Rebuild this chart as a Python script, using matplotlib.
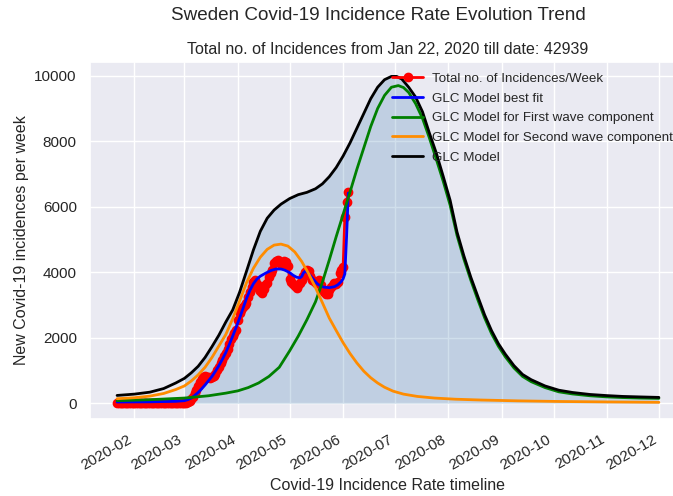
import numpy as np
import pandas as pd
import matplotlib
matplotlib.use("Agg")
import matplotlib.pyplot as plt
import matplotlib.dates as mdates
import seaborn as sns

# observed new incidences per week (rolling), one value per day from 2020-01-22
obs_start = "2020-01-22"
obs_jan = [0, 0, 0, 0, 0, 0, 0, 0, 0, 0]
obs_feb = [0, 0, 0, 0, 0, 0, 0, 0, 0, 0, 0, 0, 0, 0, 0, 0, 0, 0, 0, 0,
           0, 0, 0, 0, 0, 0, 0, 0, 0]
obs_mar = [5, 10, 30, 70, 120, 200, 300, 420, 520, 650, 750, 800, 820, 810, 790, 780,
           800, 820, 900, 1030, 1120, 1220, 1330, 1430, 1540, 1650, 1800, 1950, 2040,
           2150, 2250]
obs_apr = [2550, 2750, 2860, 2950, 3000, 3070, 3250, 3400, 3550, 3700, 3770, 3650, 3500,
           3420, 3380, 3500, 3600, 3680, 3850, 3990, 4080, 4290, 4350, 4380, 4300, 4250,
           4290, 4350, 4300, 4200]
obs_may = [3800, 3700, 3650, 3570, 3530, 3600, 3680, 3770, 3900, 4000, 4080, 4050, 3900,
           3770, 3720, 3680, 3700, 3750, 3600, 3480, 3400, 3350, 3350, 3450, 3560, 3620,
           3680, 3650, 3700, 3990, 4080]
obs_jun = [4170, 5700, 6150, 6450]

# GLC model best fit over the observed period
fit_dates = ["2020-01-22", "2020-02-10", "2020-02-25", "2020-03-01", "2020-03-03",
             "2020-03-05", "2020-03-07", "2020-03-09", "2020-03-11", "2020-03-13",
             "2020-03-15", "2020-03-17", "2020-03-19", "2020-03-21", "2020-03-23",
             "2020-03-25", "2020-03-27", "2020-03-29", "2020-03-31", "2020-04-02",
             "2020-04-04", "2020-04-06", "2020-04-08", "2020-04-10", "2020-04-12",
             "2020-04-14", "2020-04-17", "2020-04-20", "2020-04-23", "2020-04-26",
             "2020-04-28", "2020-05-01", "2020-05-03", "2020-05-05", "2020-05-07",
             "2020-05-08", "2020-05-09", "2020-05-10", "2020-05-11", "2020-05-13",
             "2020-05-15", "2020-05-17", "2020-05-19", "2020-05-21", "2020-05-24",
             "2020-05-27", "2020-05-29", "2020-05-31", "2020-06-01", "2020-06-02",
             "2020-06-03", "2020-06-04"]
fit_vals = [40, 45, 60, 80, 110, 160, 240, 330, 440, 560, 690, 820, 980, 1150, 1340,
            1550, 1790, 2050, 2320, 2600, 2900, 3200, 3450, 3650, 3790, 3880, 3970, 4050,
            4100, 4100, 4070, 3990, 3910, 3850, 3830, 3870, 3980, 4030, 4010, 3900, 3770,
            3650, 3580, 3545, 3530, 3560, 3620, 3720, 3800, 3950, 5080, 6420]

# first wave component
wave1_dates = ["2020-01-22", "2020-02-10", "2020-03-01", "2020-03-15", "2020-03-25",
               "2020-04-01", "2020-04-07", "2020-04-13", "2020-04-19", "2020-04-25",
               "2020-05-01", "2020-05-06", "2020-05-11", "2020-05-16", "2020-05-20",
               "2020-05-24", "2020-05-28", "2020-06-01", "2020-06-05", "2020-06-09",
               "2020-06-13", "2020-06-17", "2020-06-21", "2020-06-25", "2020-06-29",
               "2020-07-03", "2020-07-06", "2020-07-09", "2020-07-13", "2020-07-17",
               "2020-07-21", "2020-07-25", "2020-07-29", "2020-08-02", "2020-08-06",
               "2020-08-10", "2020-08-14", "2020-08-18", "2020-08-22", "2020-08-26",
               "2020-08-30", "2020-09-03", "2020-09-08", "2020-09-13", "2020-09-18",
               "2020-09-26", "2020-10-04", "2020-10-12", "2020-10-22", "2020-11-01",
               "2020-11-10", "2020-11-20", "2020-12-01"]
wave1_vals = [80, 110, 160, 230, 310, 380, 480, 620, 820, 1100, 1600, 2050, 2550, 3100,
              3700, 4380, 5090, 5770, 6450, 7150, 7800, 8450, 9000, 9400, 9650, 9700, 9640,
              9490, 9150, 8700, 8100, 7450, 6780, 6050, 5130, 4400, 3760, 3170, 2610, 2130,
              1740, 1420, 1080, 820, 660, 480, 350, 285, 230, 195, 175, 160, 150]

# second wave component
wave2_dates = ["2020-01-22", "2020-02-01", "2020-02-10", "2020-02-18", "2020-02-25",
               "2020-03-01", "2020-03-05", "2020-03-09", "2020-03-13", "2020-03-17",
               "2020-03-21", "2020-03-25", "2020-03-29", "2020-04-02", "2020-04-06",
               "2020-04-10", "2020-04-14", "2020-04-18", "2020-04-22", "2020-04-26",
               "2020-04-30", "2020-05-04", "2020-05-08", "2020-05-12", "2020-05-16",
               "2020-05-20", "2020-05-24", "2020-05-28", "2020-06-01", "2020-06-05",
               "2020-06-09", "2020-06-13", "2020-06-17", "2020-06-21", "2020-06-25",
               "2020-06-30", "2020-07-06", "2020-07-14", "2020-07-24", "2020-08-05",
               "2020-08-20", "2020-09-10", "2020-10-05", "2020-11-01", "2020-12-01"]
wave2_vals = [140, 170, 220, 300, 420, 530, 680, 870, 1100, 1400, 1750, 2100, 2580, 3120,
              3680, 4120, 4460, 4700, 4830, 4860, 4800, 4620, 4330, 3960, 3530, 3070, 2600,
              2220, 1850, 1520, 1230, 980, 780, 620, 490, 370, 280, 210, 160, 125, 100, 75,
              55, 42, 30]

# full GLC model
glc_dates = ["2020-01-22", "2020-02-01", "2020-02-10", "2020-02-18", "2020-02-25",
             "2020-03-01", "2020-03-05", "2020-03-09", "2020-03-13", "2020-03-17",
             "2020-03-21", "2020-03-25", "2020-03-29", "2020-04-02", "2020-04-06",
             "2020-04-10", "2020-04-14", "2020-04-18", "2020-04-22", "2020-04-26",
             "2020-05-01", "2020-05-06", "2020-05-11", "2020-05-16", "2020-05-20",
             "2020-05-24", "2020-05-28", "2020-06-01", "2020-06-05", "2020-06-09",
             "2020-06-13", "2020-06-17", "2020-06-21", "2020-06-25", "2020-06-29",
             "2020-07-02", "2020-07-05", "2020-07-09", "2020-07-13", "2020-07-17",
             "2020-07-21", "2020-07-25", "2020-07-29", "2020-08-02", "2020-08-06",
             "2020-08-10", "2020-08-14", "2020-08-18", "2020-08-22", "2020-08-26",
             "2020-08-30", "2020-09-03", "2020-09-08", "2020-09-13", "2020-09-18",
             "2020-09-26", "2020-10-04", "2020-10-12", "2020-10-22", "2020-11-01",
             "2020-11-10", "2020-11-20", "2020-12-01"]
glc_vals = [240, 280, 340, 450, 620, 760, 930, 1130, 1400, 1730, 2080, 2480, 2850, 3390,
            4030, 4680, 5250, 5650, 5900, 6080, 6250, 6370, 6440, 6550, 6700, 6920, 7200,
            7550, 7950, 8400, 8850, 9300, 9650, 9880, 9980, 9980, 9900, 9650, 9350, 8900,
            8250, 7640, 6930, 6200, 5230, 4500, 3850, 3270, 2700, 2220, 1820, 1500, 1150,
            880, 720, 530, 400, 330, 270, 235, 210, 195, 180]
fill_from = "2020-03-01"

sns.set_theme(style="darkgrid")
plt.rcParams['font.family'] = ['Liberation Sans', 'DejaVu Sans']

obs_vals = obs_jan + obs_feb + obs_mar + obs_apr + obs_may + obs_jun
obs_dates = pd.date_range(obs_start, periods=len(obs_vals), freq="D")
fit_dates = pd.to_datetime(fit_dates)
wave1_dates = pd.to_datetime(wave1_dates)
wave2_dates = pd.to_datetime(wave2_dates)
glc_dates = pd.to_datetime(glc_dates)
glc_vals = np.array(glc_vals)

fig = plt.figure(figsize=(6.73, 4.96), dpi=100)
ax = fig.add_axes([0.1337, 0.1552, 0.8856, 0.7198])

# shaded area under the full model
sel = glc_dates >= pd.Timestamp(fill_from)
ax.fill_between(glc_dates[sel], 0, glc_vals[sel], color="steelblue", alpha=0.25, lw=0)

ax.plot(obs_dates, obs_vals, "o-", color="red", lw=2, ms=6,
        label="Total no. of Incidences/Week")
ax.plot(fit_dates, fit_vals, color="blue", lw=2, label="GLC Model best fit")
ax.plot(wave1_dates, wave1_vals, color="green", lw=2,
        label="GLC Model for First wave component")
ax.plot(wave2_dates, wave2_vals, color="darkorange", lw=2,
        label="GLC Model for Second wave component")
ax.plot(glc_dates, glc_vals, color="black", lw=2, label="GLC Model")

ax.set_ylim(-480, 10420)
ax.xaxis.set_major_locator(mdates.MonthLocator())
ax.xaxis.set_major_formatter(mdates.DateFormatter("%Y-%m"))
plt.setp(ax.get_xticklabels(), rotation=30, ha="right")
ax.tick_params(labelsize=11)

ax.set_xlabel("Covid-19 Incidence Rate timeline", fontsize=11.5)
ax.set_ylabel("New Covid-19 incidences per week", fontsize=11.5)
ax.set_title("Total no. of Incidences from Jan 22, 2020 till date: 42939",
             fontsize=11.5, pad=6)
fig.suptitle("Sweden Covid-19 Incidence Rate Evolution Trend", x=378/673, y=1-15/496,
             va="center", fontsize=13.6)

ax.legend(loc="upper left", bbox_to_anchor=(0.575, 0.864),
          bbox_transform=fig.transFigure, frameon=False, fontsize=9.6,
          handlelength=2.3, handletextpad=0.7, borderaxespad=0, labelspacing=0.55)

fig.savefig("out.png", dpi=100)
